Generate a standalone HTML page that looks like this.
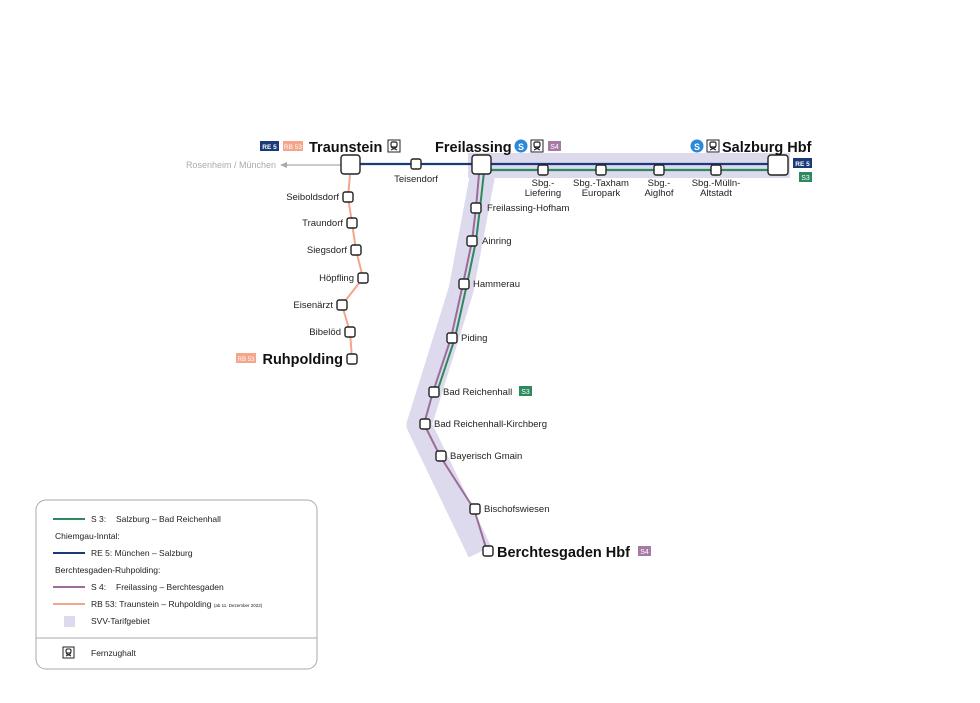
<!DOCTYPE html>
<html><head><meta charset="utf-8"><style>
html,body{margin:0;padding:0;background:#fff;}
svg{display:block;font-family:"Liberation Sans",sans-serif;}
.st{fill:#fff;stroke:#222;stroke-width:1.4;}
.lb{font-size:9.5px;fill:#222;}
.big{font-size:14.5px;font-weight:bold;fill:#111;}
</style></head><body>
<svg width="980" height="703" viewBox="0 0 980 703" xmlns="http://www.w3.org/2000/svg">
<!-- SVV band -->
<rect x="468" y="153" width="322" height="25" fill="#dcdaec"/>
<polyline points="481,160 482,178 461,290 419,425 480,552" fill="none" stroke="#dcdaec" stroke-width="25" stroke-linejoin="round"/>
<!-- grey to Rosenheim -->
<line x1="284" y1="165" x2="341" y2="165" stroke="#aaa" stroke-width="1.2"/>
<polygon points="280,165 287,162 287,168" fill="#aaa"/>
<text x="276" y="168" font-size="9" fill="#aaa" text-anchor="end">Rosenheim / München</text>
<!-- orange RB53 -->
<polyline points="350,175 348,197 352,223 356,250 363,278 342,305 350,332 352,359" fill="none" stroke="#f4a58a" stroke-width="2"/>
<!-- main lines -->
<line x1="359" y1="164" x2="768" y2="164" stroke="#1a3a7a" stroke-width="2.2"/>
<line x1="490" y1="170" x2="768" y2="170" stroke="#2e8a5e" stroke-width="2.2"/>
<!-- S4 purple + S3 green -->
<polyline points="479,174 476,208 472,241 463,284 451,338 433,392 424,424 440,456 474,509 487,551" fill="none" stroke="#9c6c9a" stroke-width="2"/>
<polyline points="484,172 480,208 476,241 467,284 455,338 437,392" fill="none" stroke="#2e8a5e" stroke-width="2"/>
<!-- big stations -->
<rect x="341" y="155" width="19" height="19" rx="3" class="st"/>
<rect x="472" y="155" width="19" height="19" rx="3" class="st"/>
<rect x="768" y="155" width="20" height="20" rx="3" class="st"/>
<!-- small main -->
<rect x="411" y="159" width="10" height="10" rx="2" class="st"/>
<rect x="538" y="165" width="10" height="10" rx="2" class="st"/>
<rect x="596" y="165" width="10" height="10" rx="2" class="st"/>
<rect x="654" y="165" width="10" height="10" rx="2" class="st"/>
<rect x="711" y="165" width="10" height="10" rx="2" class="st"/>
<g class="lb" text-anchor="middle">
<text x="416" y="182">Teisendorf</text>
<text x="543" y="186">Sbg.-</text><text x="543" y="196">Liefering</text>
<text x="601" y="186">Sbg.-Taxham</text><text x="601" y="196">Europark</text>
<text x="659" y="186">Sbg.-</text><text x="659" y="196">Aiglhof</text>
<text x="716" y="186">Sbg.-Mülln-</text><text x="716" y="196">Altstadt</text>
</g>
<!-- orange stations -->
<g>
<rect x="343" y="192" width="10" height="10" rx="2" class="st"/>
<rect x="347" y="218" width="10" height="10" rx="2" class="st"/>
<rect x="351" y="245" width="10" height="10" rx="2" class="st"/>
<rect x="358" y="273" width="10" height="10" rx="2" class="st"/>
<rect x="337" y="300" width="10" height="10" rx="2" class="st"/>
<rect x="345" y="327" width="10" height="10" rx="2" class="st"/>
<rect x="347" y="354" width="10" height="10" rx="2" class="st"/>
</g>
<g class="lb" text-anchor="end">
<text x="339" y="200">Seiboldsdorf</text>
<text x="343" y="226">Traundorf</text>
<text x="347" y="253">Siegsdorf</text>
<text x="354" y="281">Höpfling</text>
<text x="333" y="308">Eisenärzt</text>
<text x="341" y="335">Bibelöd</text>
</g>
<text x="343" y="364" class="big" text-anchor="end">Ruhpolding</text>
<rect x="236" y="353" width="20" height="10" fill="#f4a58a"/><text x="246" y="361" font-size="6" fill="#fff" text-anchor="middle">RB 53</text>
<!-- S4 stations -->
<g>
<rect x="471" y="203" width="10" height="10" rx="2" class="st"/>
<rect x="467" y="236" width="10" height="10" rx="2" class="st"/>
<rect x="459" y="279" width="10" height="10" rx="2" class="st"/>
<rect x="447" y="333" width="10" height="10" rx="2" class="st"/>
<rect x="429" y="387" width="10" height="10" rx="2" class="st"/>
<rect x="420" y="419" width="10" height="10" rx="2" class="st"/>
<rect x="436" y="451" width="10" height="10" rx="2" class="st"/>
<rect x="470" y="504" width="10" height="10" rx="2" class="st"/>
<rect x="483" y="546" width="10" height="10" rx="2" class="st"/>
</g>
<g class="lb">
<text x="487" y="211">Freilassing-Hofham</text>
<text x="482" y="244">Ainring</text>
<text x="473" y="287">Hammerau</text>
<text x="461" y="341">Piding</text>
<text x="443" y="395">Bad Reichenhall</text>
<text x="434" y="427">Bad Reichenhall-Kirchberg</text>
<text x="450" y="459">Bayerisch Gmain</text>
<text x="484" y="512">Bischofswiesen</text>
</g>
<rect x="519" y="386" width="13" height="10" fill="#2e8a5e"/><text x="525.5" y="394" font-size="7" fill="#fff" text-anchor="middle">S3</text>
<text x="497" y="557" class="big">Berchtesgaden Hbf</text>
<rect x="638" y="546" width="13" height="10" fill="#a77aa5"/><text x="644.5" y="554" font-size="7" fill="#fff" text-anchor="middle">S4</text>
<!-- Traunstein title -->
<rect x="260" y="141" width="19" height="10" fill="#1a3a7a"/><text x="269.5" y="149" font-size="6.5" fill="#fff" text-anchor="middle" font-weight="bold">RE 5</text>
<rect x="283" y="141" width="20" height="10" fill="#f4a58a"/><text x="293" y="149" font-size="6.5" fill="#fff" text-anchor="middle">RB 53</text>
<text x="309" y="152" class="big">Traunstein</text>
<g transform="translate(388,140)"><rect x="0" y="0" width="12" height="12" fill="#fff" stroke="#222" stroke-width="1"/><rect x="3" y="2" width="6" height="5" rx="1.5" fill="none" stroke="#222" stroke-width="1.2"/><line x1="3" y1="10" x2="9" y2="7" stroke="#222"/><line x1="9" y1="10" x2="3" y2="7" stroke="#222"/></g>
<!-- Freilassing title -->
<text x="435" y="152" class="big">Freilassing</text>
<circle cx="521" cy="146" r="6.5" fill="#2a8ad8"/><text x="521" y="150" font-size="9" fill="#fff" text-anchor="middle" font-weight="bold">S</text>
<g transform="translate(531,140)"><rect x="0" y="0" width="12" height="12" fill="#fff" stroke="#222" stroke-width="1"/><rect x="3" y="2" width="6" height="5" rx="1.5" fill="none" stroke="#222" stroke-width="1.2"/><line x1="3" y1="10" x2="9" y2="7" stroke="#222"/><line x1="9" y1="10" x2="3" y2="7" stroke="#222"/></g>
<rect x="548" y="141" width="13" height="10" fill="#a77aa5"/><text x="554.5" y="149" font-size="7" fill="#fff" text-anchor="middle">S4</text>
<!-- Salzburg title -->
<circle cx="697" cy="146" r="6.5" fill="#2a8ad8"/><text x="697" y="150" font-size="9" fill="#fff" text-anchor="middle" font-weight="bold">S</text>
<g transform="translate(707,140)"><rect x="0" y="0" width="12" height="12" fill="#fff" stroke="#222" stroke-width="1"/><rect x="3" y="2" width="6" height="5" rx="1.5" fill="none" stroke="#222" stroke-width="1.2"/><line x1="3" y1="10" x2="9" y2="7" stroke="#222"/><line x1="9" y1="10" x2="3" y2="7" stroke="#222"/></g>
<text x="722" y="152" class="big">Salzburg Hbf</text>
<rect x="793" y="158" width="19" height="10" fill="#1a3a7a"/><text x="802.5" y="166" font-size="6.5" fill="#fff" text-anchor="middle" font-weight="bold">RE 5</text>
<rect x="799" y="172" width="13" height="10" fill="#2e8a5e"/><text x="805.5" y="180" font-size="7" fill="#fff" text-anchor="middle">S3</text>
<!-- legend -->
<rect x="36" y="500" width="281" height="169" rx="10" fill="#fff" stroke="#aaa" stroke-width="1"/>
<line x1="36" y1="638" x2="317" y2="638" stroke="#aaa"/>
<g font-size="8.5" fill="#222">
<line x1="53" y1="519" x2="85" y2="519" stroke="#2e8a5e" stroke-width="2"/>
<text x="91" y="522">S 3:</text><text x="116" y="522">Salzburg – Bad Reichenhall</text>
<text x="55" y="539">Chiemgau-Inntal:</text>
<line x1="53" y1="553" x2="85" y2="553" stroke="#1a3a7a" stroke-width="2"/>
<text x="91" y="556">RE 5:  München – Salzburg</text>
<text x="55" y="573">Berchtesgaden-Ruhpolding:</text>
<line x1="53" y1="587" x2="85" y2="587" stroke="#9c6c9a" stroke-width="2"/>
<text x="91" y="590">S 4:</text><text x="116" y="590">Freilassing – Berchtesgaden</text>
<line x1="53" y1="604" x2="85" y2="604" stroke="#f4a58a" stroke-width="2"/>
<text x="91" y="607">RB 53: Traunstein – Ruhpolding <tspan font-size="4.5">(ab 11. Dezember 2022)</tspan></text>
<rect x="64" y="616" width="11" height="11" fill="#dcdaec"/>
<text x="91" y="624">SVV-Tarifgebiet</text>
<text x="91" y="656">Fernzughalt</text>
</g>
<g transform="translate(63,647)"><rect x="0" y="0" width="11" height="11" fill="#fff" stroke="#222" stroke-width="1"/><rect x="3" y="2" width="5" height="4" rx="1.5" fill="none" stroke="#222" stroke-width="1.1"/><line x1="3" y1="9" x2="8" y2="6.5" stroke="#222"/><line x1="8" y1="9" x2="3" y2="6.5" stroke="#222"/></g>
</svg>
</body></html>
